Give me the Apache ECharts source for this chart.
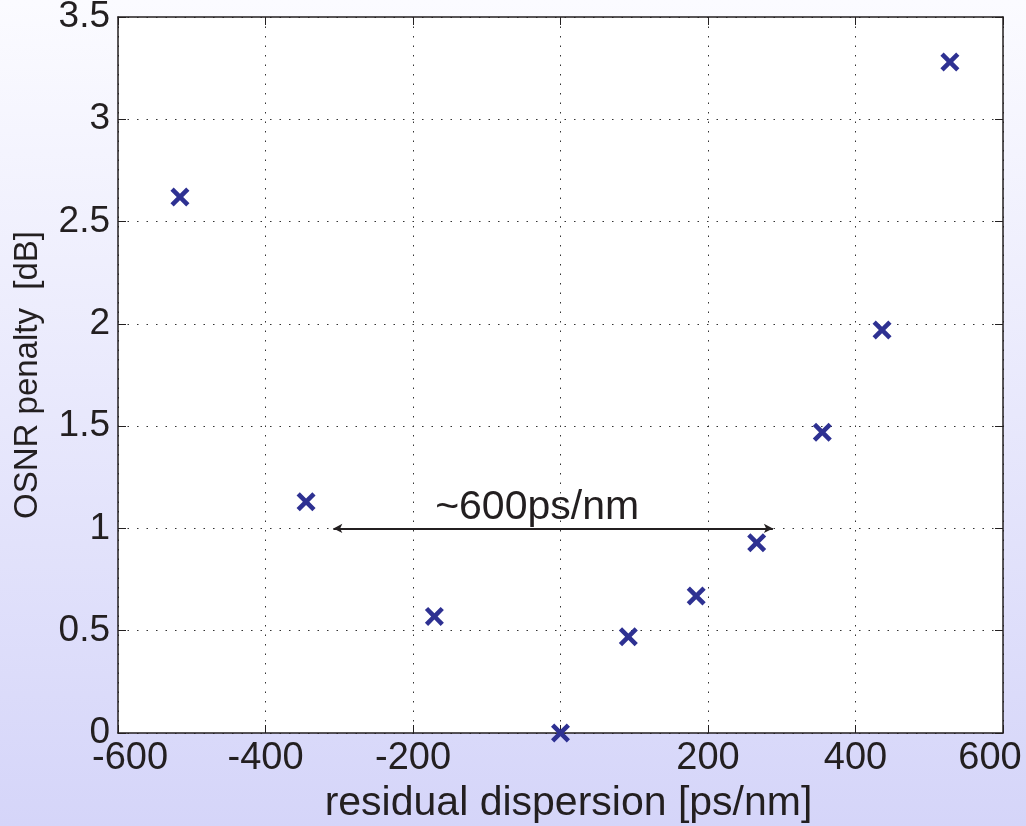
<!DOCTYPE html>
<html>
<head>
<meta charset="utf-8">
<script src="https://cdn.jsdelivr.net/npm/echarts@6/dist/echarts.min.js"></script>
<style>
  html, body { margin: 0; padding: 0; }
  #chart { width: 1026px; height: 826px; }
</style>
</head>
<body>
<div id="chart"></div>
<script>
// residual dispersion [ps/nm] and OSNR penalty [dB]
const dispersion = [-516, -345, -171, 0, 92, 184, 266, 355, 436, 528];
const penalty = [2.62, 1.13, 0.57, 0.0, 0.47, 0.67, 0.93, 1.47, 1.97, 3.28];
// the ~600ps/nm window arrow
const windowSpan = [-308, 288];
const windowLevel = 1;
const windowText = '~600ps/nm';

const xTicks = { min: -600, max: 600, interval: 200 };
const yTicks = { min: 0, max: 3.5, interval: 0.5 };

const font = 'Liberation Sans, Arial, sans-serif';
const ink = '#231f20';
const markColor = '#2e3192';
// x-shaped marker
const crossPath = 'path://M0,1.7L1.7,0L5,3.3L8.3,0L10,1.7L6.7,5L10,8.3L8.3,10L5,6.7L1.7,10L0,8.3L3.3,5Z';

const chart = echarts.init(document.getElementById('chart'));

const gridDots = { show: true, lineStyle: { color: '#333', type: [1.5, 8], width: 1 } };
const inTicks = { show: true, inside: true, length: 8, lineStyle: { color: ink, width: 1 } };
const boxLine = { show: true, onZero: false, lineStyle: { color: ink, width: 1.5 } };

// x tick labels: no "0", end labels nudged inwards like the original
function xLabel(v) {
  if (v === 0) return '';
  if (v === xTicks.min) return '{lo|' + v + '}';
  if (v === xTicks.max) return '{hi|' + v + '}';
  return String(v);
}

const option = {
  animation: false,
  backgroundColor: new echarts.graphic.LinearGradient(0, 0, 0, 1, [
    { offset: 0, color: '#fbfbff' },
    { offset: 1, color: '#d5d5f9' }
  ]),
  grid: {
    left: 118, right: 23, top: 17, bottom: 93,
    outerBoundsMode: 'none',
    backgroundColor: '#ffffff', show: true, borderWidth: 0
  },
  xAxis: [
    {
      type: 'value',
      min: xTicks.min, max: xTicks.max, interval: xTicks.interval,
      axisLine: boxLine,
      axisTick: inTicks,
      splitLine: gridDots,
      axisLabel: {
        color: ink, fontFamily: font, fontSize: 38, margin: 7,
        formatter: xLabel,
        rich: {
          lo: { color: ink, fontFamily: font, fontSize: 38, padding: [0, 0, 0, 24] },
          hi: { color: ink, fontFamily: font, fontSize: 38, padding: [0, 26, 0, 0] }
        }
      },
      name: 'residual dispersion [ps/nm]',
      nameLocation: 'middle',
      nameGap: 46,
      nameTextStyle: {
        color: ink, fontFamily: font, fontSize: 41, verticalAlign: 'top',
        padding: [0, 0, 0, 16]
      }
    },
    {
      type: 'value', position: 'top',
      min: xTicks.min, max: xTicks.max, interval: xTicks.interval,
      axisLine: boxLine, axisTick: inTicks,
      axisLabel: { show: false }, splitLine: { show: false }
    }
  ],
  yAxis: [
    {
      type: 'value',
      min: yTicks.min, max: yTicks.max, interval: yTicks.interval,
      axisLine: boxLine,
      axisTick: inTicks,
      splitLine: gridDots,
      axisLabel: { color: ink, fontFamily: font, fontSize: 37, margin: 8 },
      name: 'OSNR penalty  [dB]',
      nameLocation: 'middle',
      nameGap: 74,
      nameTextStyle: { color: ink, fontFamily: font, fontSize: 33 }
    },
    {
      type: 'value', position: 'right',
      min: yTicks.min, max: yTicks.max, interval: yTicks.interval,
      axisLine: boxLine, axisTick: inTicks,
      axisLabel: { show: false }, splitLine: { show: false }
    }
  ],
  series: [
    {
      type: 'scatter',
      data: dispersion.map((d, i) => [d, penalty[i]]),
      symbol: crossPath,
      symbolSize: 19,
      itemStyle: { color: markColor, opacity: 1 },
      z: 5,
      markLine: {
        silent: true,
        symbol: ['arrow', 'arrow'],
        symbolSize: [7, 9],
        lineStyle: { color: ink, width: 2, type: 'solid' },
        label: {
          show: true,
          position: 'middle',
          formatter: windowText,
          color: ink,
          fontFamily: font,
          fontSize: 41,
          distance: 0,
          offset: [-16, 0]
        },
        data: [[
          { coord: [windowSpan[0], windowLevel] },
          { coord: [windowSpan[1], windowLevel] }
        ]]
      }
    }
  ]
};

chart.setOption(option);
</script>
</body>
</html>
